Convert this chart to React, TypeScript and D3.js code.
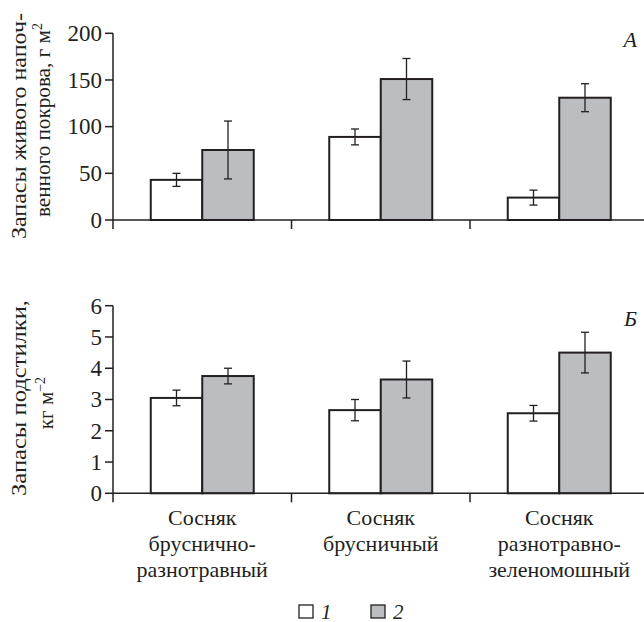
import React from "react";
import * as d3 from "d3";

// Forest types (categories)
const categories = ["brusn-raznotr", "brusn", "raznotr-zelenomosh"];
const categoryLines = [
  ["Сосняк", "бруснично-", "разнотравный"],
  ["Сосняк", "брусничный"],
  ["Сосняк", "разнотравно-", "зеленомошный"],
];
const seriesKeys = ["1", "2"];
const seriesFill = ["#ffffff", "#bcbdc0"];

// Panel A: ground cover stock, g m-2
const coverValues1 = [43, 89, 24];
const coverErr1 = [7, 8.5, 8];
const coverValues2 = [75, 151, 131];
const coverErr2 = [31, 22, 15];
const coverTicks = [0, 50, 100, 150, 200];

// Panel B: litter stock, kg m-2
const litterValues1 = [3.05, 2.66, 2.56];
const litterErr1 = [0.25, 0.34, 0.25];
const litterValues2 = [3.75, 3.64, 4.5];
const litterErr2 = [0.25, 0.59, 0.65];
const litterTicks = [0, 1, 2, 3, 4, 5, 6];

const INK = "#231f20";
const txt = (size: number, italic = false): React.CSSProperties => ({
  fontFamily: "'Times New Roman', Times, serif",
  fontSize: `${size}px`,
  fontStyle: italic ? "italic" : "normal",
  fill: INK,
});

const xLeft = 113;
const xRight = 648.5;

const x = d3.scaleBand<string>().domain(categories).range([xLeft, xRight]).padding(0);
const barW = 51.5;

type PanelProps = {
  top: number;
  bottom: number;
  max: number;
  ticks: number[];
  v1: number[];
  e1: number[];
  v2: number[];
  e2: number[];
  letter: string;
  letterY: number;
};

const Panel = ({ top, bottom, max, ticks, v1, e1, v2, e2, letter, letterY }: PanelProps) => {
  const y = d3.scaleLinear().domain([0, max]).range([bottom, top]);
  const series = [
    { vals: v1, errs: e1 },
    { vals: v2, errs: e2 },
  ];
  return (
    <g>
      {/* bars */}
      {series.map((s, si) =>
        categories.map((c, i) => {
          const cx = x(c)! + x.bandwidth() / 2;
          const bx = cx - barW + si * barW;
          return (
            <rect
              key={`b${si}${i}`}
              x={bx}
              y={y(s.vals[i])}
              width={barW}
              height={bottom - y(s.vals[i])}
              fill={seriesFill[si]}
              stroke={INK}
              strokeWidth={2}
            />
          );
        })
      )}
      {/* error bars */}
      {series.map((s, si) =>
        categories.map((c, i) => {
          const cx = x(c)! + x.bandwidth() / 2;
          const ex = cx - barW / 2 + si * barW;
          const y1 = y(s.vals[i] + s.errs[i]);
          const y2 = y(s.vals[i] - s.errs[i]);
          return (
            <g key={`e${si}${i}`} stroke={INK} strokeWidth={1.3}>
              <line x1={ex} x2={ex} y1={y1} y2={y2} />
              <line x1={ex - 4} x2={ex + 4} y1={y1} y2={y1} />
              <line x1={ex - 4} x2={ex + 4} y1={y2} y2={y2} />
            </g>
          );
        })
      )}
      {/* x axis */}
      <line x1={xLeft} x2={644} y1={bottom} y2={bottom} stroke={INK} strokeWidth={1.5} />
      {categories.slice(1).map((c) => (
        <line key={c} x1={x(c)!} x2={x(c)!} y1={bottom} y2={bottom + 9} stroke={INK} strokeWidth={1.5} />
      ))}
      {/* y axis */}
      <line x1={xLeft} x2={xLeft} y1={top} y2={bottom + 9} stroke={INK} strokeWidth={1.5} />
      {ticks.map((t) => (
        <g key={t}>
          <line x1={xLeft - 8} x2={xLeft} y1={y(t)} y2={y(t)} stroke={INK} strokeWidth={1.5} />
          <text x={xLeft - 11} y={y(t)} dy="0.34em" textAnchor="end" style={txt(23)}>
            {t}
          </text>
        </g>
      ))}
      <text x={637} y={letterY} textAnchor="end" style={txt(22, true)}>
        {letter}
      </text>
    </g>
  );
};

const App = () => {
  return (
    <svg width={644} height={622} style={{ position: "absolute", left: 0, top: 0, background: "#fff" }}>
      <Panel
        top={33.3}
        bottom={220}
        max={200}
        ticks={coverTicks}
        v1={coverValues1}
        e1={coverErr1}
        v2={coverValues2}
        e2={coverErr2}
        letter="А"
        letterY={47}
      />
      <Panel
        top={305.7}
        bottom={493.3}
        max={6}
        ticks={litterTicks}
        v1={litterValues1}
        e1={litterErr1}
        v2={litterValues2}
        e2={litterErr2}
        letter="Б"
        letterY={326}
      />

      {/* y axis titles */}
      <g textAnchor="middle">
        <text transform="translate(26,126) rotate(-90)" style={txt(21)} textLength={226} lengthAdjust="spacingAndGlyphs">
          Запасы живого напоч-
        </text>
        <text transform="translate(50,120) rotate(-90)" style={txt(21)} textLength={194} lengthAdjust="spacingAndGlyphs">
          венного покрова, г м<tspan dy={-8} style={{ fontSize: "14px" }}>2</tspan>
        </text>
        <text transform="translate(26,398) rotate(-90)" style={txt(21)} textLength={196} lengthAdjust="spacingAndGlyphs">
          Запасы подстилки,
        </text>
        <text transform="translate(53,403) rotate(-90)" style={txt(21)}>
          кг м<tspan dy={-8} style={{ fontSize: "14px" }}>−2</tspan>
        </text>
      </g>

      {/* category labels */}
      <g textAnchor="middle">
        {categories.map((c, i) => (
          <text key={c} x={x(c)! + x.bandwidth() / 2} y={525} style={txt(22)}>
            {categoryLines[i].map((line, li) => (
              <tspan key={li} x={x(c)! + x.bandwidth() / 2} y={525 + li * 26}>
                {line}
              </tspan>
            ))}
          </text>
        ))}
      </g>

      {/* legend */}
      {seriesKeys.map((k, i) => (
        <g key={k} transform={`translate(${299 + i * 72},605)`}>
          <rect x={0} y={0} width={14} height={13} fill={seriesFill[i]} stroke={INK} strokeWidth={1.3} />
          <text x={22} y={13.5} style={txt(21, true)}>
            {k}
          </text>
        </g>
      ))}
    </svg>
  );
};

export default App;
